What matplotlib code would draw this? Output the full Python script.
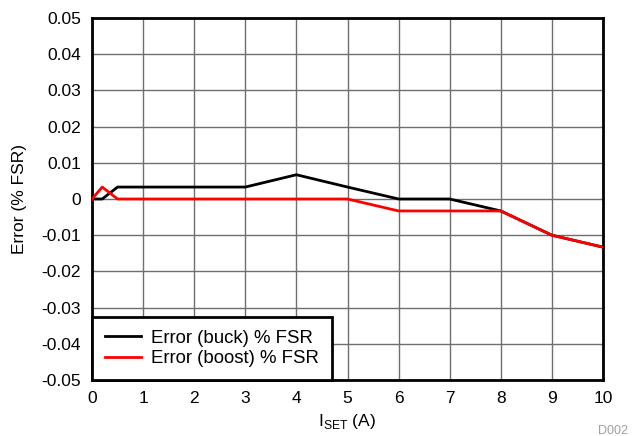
import matplotlib
matplotlib.use("Agg")
import matplotlib.pyplot as plt

plt.rcParams['font.family'] = ['Liberation Sans', 'DejaVu Sans']
plt.rcParams['mathtext.fontset'] = 'custom'
plt.rcParams['mathtext.rm'] = 'Liberation Sans'

# Current setpoint (A)
iset = [0, 0.2, 0.5, 1, 2, 3, 4, 5, 6, 7, 8, 9, 10]
# Error in % of full-scale range
err_buck = [0, 0, 0.0033, 0.0033, 0.0033, 0.0033, 0.0067, 0.0033, 0, 0, -0.0033, -0.01, -0.0133]
err_boost = [0, 0.0033, 0, 0, 0, 0, 0, 0, -0.0033, -0.0033, -0.0033, -0.01, -0.0133]

xticks = [0, 1, 2, 3, 4, 5, 6, 7, 8, 9, 10]
yticks = [-0.05, -0.04, -0.03, -0.02, -0.01, 0, 0.01, 0.02, 0.03, 0.04, 0.05]
yticklabels = ['-0.05', '-0.04', '-0.03', '-0.02', '-0.01', '0', '0.01', '0.02', '0.03', '0.04', '0.05']

FS = 12.5

fig = plt.figure(figsize=(6.34, 4.36), dpi=100)
ax = fig.add_axes([92 / 634, 1 - 380 / 436, 511 / 634, 362 / 436])

ax.plot(iset, err_buck, color='black', lw=2, label='Error (buck) % FSR', zorder=3)
ax.plot(iset, err_boost, color='#ff0000', lw=2, label='Error (boost) % FSR', zorder=4)

ax.set_xlim(0, 10)
ax.set_ylim(-0.05, 0.05)
ax.set_xticks(xticks)
ax.set_yticks(yticks)
ax.set_yticklabels(yticklabels)
ax.tick_params(length=0, labelsize=FS, pad=8, colors='black')
ax.grid(True, color='#6e6e6e', lw=1)
ax.set_axisbelow(True)
for s in ax.spines.values():
    s.set_linewidth(2)
    s.set_color('black')

ax.set_xlabel(r'I$_{\mathrm{SET}}$ (A)', fontsize=FS, labelpad=4)
ax.set_ylabel('Error (% FSR)', fontsize=FS, labelpad=10)

leg = ax.legend(loc='lower left', fontsize=13.4, frameon=True, fancybox=False,
                edgecolor='black', borderaxespad=0, handlelength=1.95,
                borderpad=0.68, labelspacing=0.2, handletextpad=0.55)
leg.get_frame().set_linewidth(2)
leg.get_frame().set_alpha(1)

fig.text(598 / 634, 1 - 434 / 436, 'D002', fontsize=9, color='#a0a0a0', va='baseline', ha='left')

fig.savefig('out.png', dpi=100)
